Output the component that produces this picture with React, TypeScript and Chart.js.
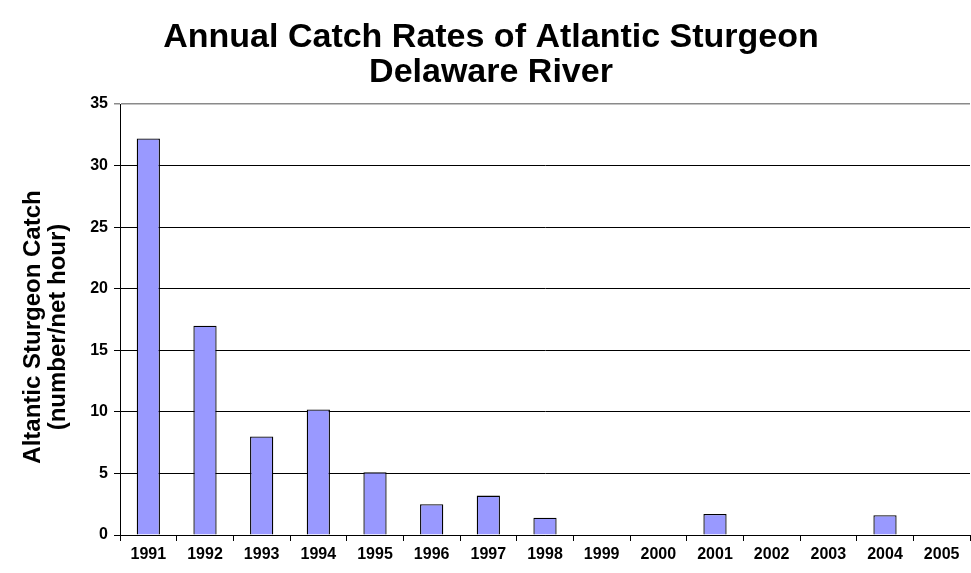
import React, { useEffect, useRef } from 'react';
import { Chart, registerables } from 'chart.js';

Chart.register(...registerables);

const years = ['1991', '1992', '1993', '1994', '1995', '1996', '1997', '1998', '1999', '2000', '2001', '2002', '2003', '2004', '2005'];
const catchRates = [32.2, 17.0, 8.0, 10.2, 5.1, 2.5, 3.2, 1.4, 0, 0, 1.7, 0, 0, 1.6, 0];
const yMin = 0;
const yMax = 35;
const yStep = 5;
const titleLines = ['Annual Catch Rates of Atlantic Sturgeon', 'Delaware River'];
const yTitleLines = ['Altantic Sturgeon Catch', '(number/net hour)'];

const FONT = 'Arial, "Liberation Sans", Helvetica, sans-serif';

const titlePlugin = {
  id: 'twoLineTitle',
  afterDraw(chart: any) {
    const ctx = chart.ctx;
    ctx.save();
    ctx.fillStyle = '#000';
    ctx.font = `bold 34px ${FONT}`;
    ctx.textAlign = 'center';
    ctx.textBaseline = 'middle';
    titleLines.forEach((t, i) => ctx.fillText(t, 491, 38 + i * 35));
    // rotated y-axis title
    ctx.font = `bold 24px ${FONT}`;
    ctx.translate(0, 327);
    ctx.rotate(-Math.PI / 2);
    yTitleLines.forEach((t, i) => ctx.fillText(t, 0, 33 + i * 25));
    ctx.restore();
  },
};

export default function App() {
  const ref = useRef<HTMLCanvasElement | null>(null);

  useEffect(() => {
    if (!ref.current) return;
    const chart = new Chart(ref.current, {
      type: 'bar',
      data: {
        labels: years,
        datasets: [
          {
            data: catchRates,
            backgroundColor: '#9999FF',
            borderColor: '#000000',
            borderWidth: 1.3,
            barPercentage: 0.41,
            categoryPercentage: 1,
          },
        ],
      },
      options: {
        responsive: false,
        animation: false,
        layout: { padding: { top: 104, left: 0, right: 1, bottom: 0 } },
        plugins: {
          legend: { display: false },
          title: { display: false },
          tooltip: { enabled: false },
        },
        scales: {
          x: {
            offset: true,
            grid: {
              display: true,
              offset: true,
              drawOnChartArea: false,
              drawTicks: true,
              tickLength: 6,
              color: '#000',
            },
            border: { display: true, color: '#000', width: 1 },
            ticks: {
              color: '#000',
              font: { family: FONT, size: 16, weight: 'bold' },
              padding: 4,
              maxRotation: 0,
              autoSkip: false,
            },
            afterFit(scale: any) {
              scale.height = 38;
            },
          },
          y: {
            min: yMin,
            max: yMax,
            ticks: {
              stepSize: yStep,
              color: '#000',
              font: { family: FONT, size: 16, weight: 'bold' },
              padding: 6,
            },
            grid: {
              color: (c: any) => (c.tick && c.tick.value === yMax ? '#8a8a8a' : '#000'),
              lineWidth: (c: any) => (c.tick && c.tick.value === yMax ? 1.5 : 1),
              tickLength: 6,
              drawTicks: true,
            },
            border: { display: true, color: '#000', width: 1 },
            title: { display: false },
            afterFit(scale: any) {
              scale.width = 120;
            },
          },
        },
      },
      plugins: [titlePlugin],
    });
    return () => chart.destroy();
  }, []);

  return (
    <div style={{ position: 'absolute', left: 0, top: 0, width: 971, height: 573, background: '#fff' }}>
      <canvas ref={ref} width={971} height={573} />
    </div>
  );
}
